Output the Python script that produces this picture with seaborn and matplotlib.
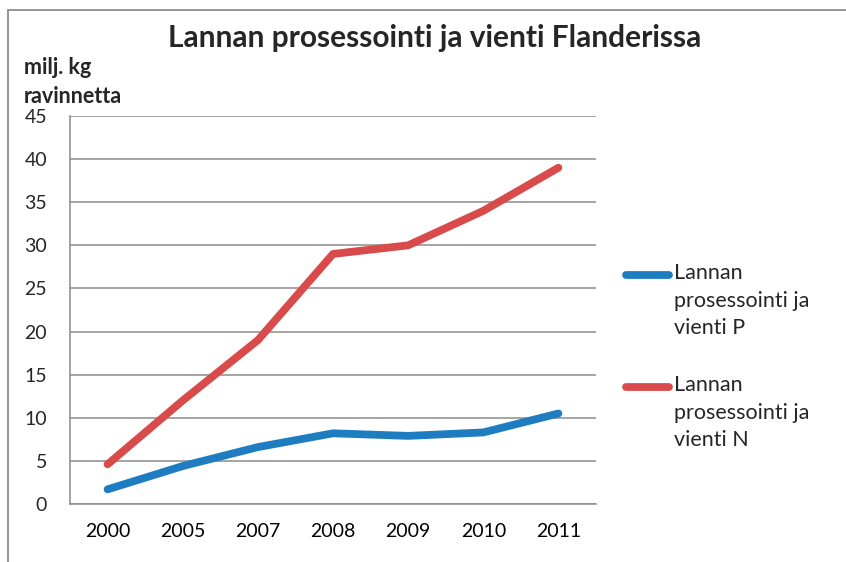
# Lannan prosessointi ja vienti Flanderissa

import numpy as np
import pandas as pd
import matplotlib.pyplot as plt
import seaborn as sns
from matplotlib.lines import Line2D

# Tiedot
vuodet = ['2000', '2005', '2007', '2008', '2009', '2010', '2011']
fosfori = [1.7, 4.4, 6.6, 8.2, 7.9, 8.3, 10.5]
typpi = [4.6, 12.0, 19.0, 29.0, 30.0, 34.0, 39.0]
sarjat = ['Lannan\nprosessointi ja\nvienti P', 'Lannan\nprosessointi ja\nvienti N']
y_ticks = list(range(0, 50, 5))

df = pd.DataFrame({
    'vuosi': vuodet * 2,
    'arvo': fosfori + typpi,
    'sarja': [sarjat[0]] * len(vuodet) + [sarjat[1]] * len(vuodet),
})

# Asetukset
sns.set_style('white')
plt.rcParams['font.family'] = ['Lato', 'DejaVu Sans']

fig = plt.figure(figsize=(8.46, 5.62), dpi=100)
ax = fig.add_axes([70 / 846, 58 / 562, 526 / 846, 388 / 562])

sns.lineplot(data=df, x='vuosi', y='arvo', hue='sarja', palette=['#1e7cc0', '#d94a4a'],
             linewidth=5.6, ax=ax, sort=False)
for l in ax.get_lines():
    l.set_solid_capstyle('round')
    l.set_solid_joinstyle('round')

ax.set_xlim(-0.5, len(vuodet) - 0.5)
ax.set_ylim(0, 45)
ax.set_yticks(y_ticks)
ax.yaxis.grid(True, color='#8c8c8c', linewidth=1.1)
ax.set_axisbelow(True)
for s in ['top', 'right']:
    ax.spines[s].set_visible(False)
for s in ['left', 'bottom']:
    ax.spines[s].set_color('#8c8c8c')
    ax.spines[s].set_linewidth(1.1)

ax.set_xticks(np.arange(-0.5, len(vuodet), 1.0), minor=True)
ax.tick_params(axis='x', which='major', length=0, labelsize=14, pad=14, colors='black')
ax.tick_params(axis='x', which='minor', length=6, color='#8c8c8c', width=1.1)
ax.tick_params(axis='y', length=6, color='#8c8c8c', width=1.1, labelsize=14, pad=10.5)
ax.set_xlabel('')
ax.set_ylabel('')

fig.text(435 / 846, 1 - 38 / 562, 'Lannan prosessointi ja vienti Flanderissa',
         ha='center', va='center', fontsize=21.5, fontweight='bold')
fig.text(24 / 846, 1 - 82 / 562, 'milj. kg\nravinnetta', ha='left', va='center',
         fontsize=15.5, fontweight='bold', linespacing=1.5)

leg = ax.legend(loc='upper left', bbox_to_anchor=(626 / 846, 1 - 263 / 562),
                bbox_transform=fig.transFigure, frameon=False, fontsize=15.5,
                borderpad=0, borderaxespad=0, handlelength=2.0, handletextpad=0.25,
                labelspacing=1.72)
for t in leg.get_texts():
    t.set_linespacing(1.47)
# kahva ensimmäisen rivin kohdalle
for h in leg.get_lines():
    h.set_linewidth(5.6)
    h.set_solid_capstyle('round')
    h.set_ydata(np.asarray(h.get_ydata()) + 19)

# Kaavion reunus
fig.add_artist(Line2D([8 / 846, 8 / 846], [0, 1 - 10 / 562], color='#8c8c8c', linewidth=1.3))
fig.add_artist(Line2D([8 / 846, 1], [1 - 10 / 562, 1 - 10 / 562], color='#8c8c8c', linewidth=1.3))

fig.savefig('out.png', dpi=100)
